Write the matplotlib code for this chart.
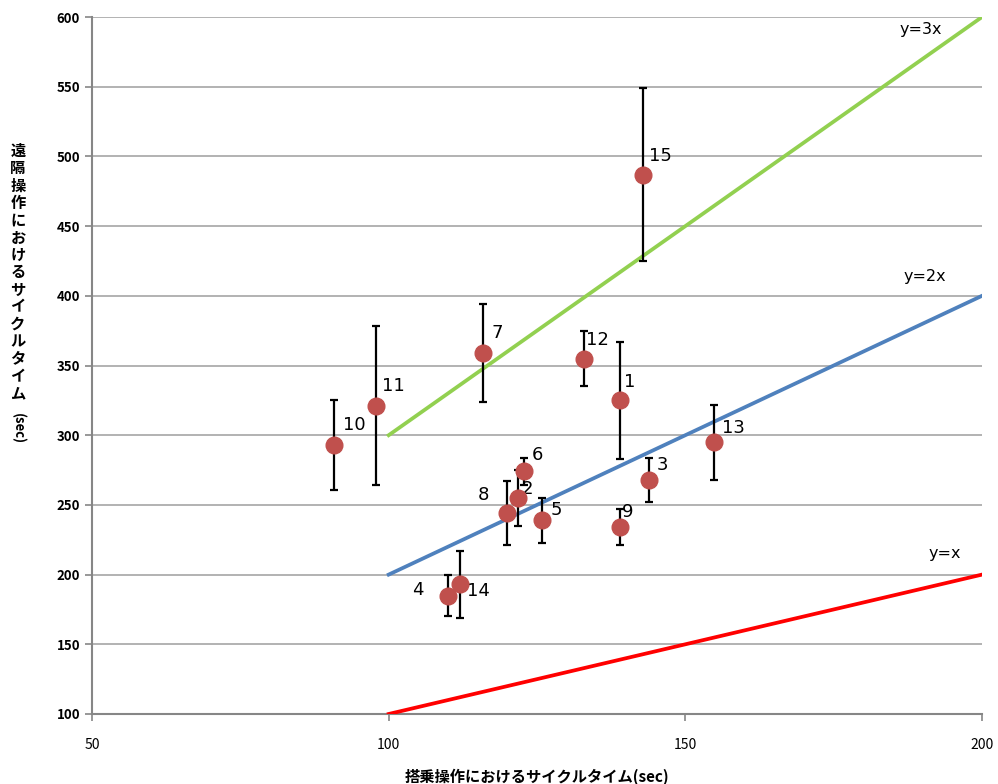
import matplotlib
matplotlib.use("Agg")
import matplotlib.pyplot as plt

plt.rcParams['font.family'] = ['Noto Sans CJK JP', 'DejaVu Sans']

# 被験者番号と平均サイクルタイム
ids = ['10', '11', '7', '15', '12', '1', '13', '3', '9', '6', '2', '8', '5', '4', '14']
x_ride = [90.8, 97.9, 115.9, 142.9, 132.9, 139.0, 154.8, 143.9, 139.0, 122.8, 121.8, 119.9, 125.8, 110.0, 112.0]
y_remote = [293, 321, 359, 487, 355, 325, 295, 268, 234, 274, 255, 244, 239, 185, 193]
y_err = [32, 57, 35, 62, 20, 42, 27, 16, 13, 10, 20, 23, 16, 15, 24]

# ラベルのずらし量 (px)
label_off = [(20, 20), (17, 20), (14, 20), (17, 19), (14, 19), (10, 18), (20, 14), (13, 15),
             (8, 15), (13, 16), (9, 9), (-23, 18), (15, 10), (-30, 6), (19, -7)]

ref_x = [100, 200]
ref_k = [1, 2, 3]
ref_names = ['y=x', 'y=2x', 'y=3x']
ref_colors = ['#FF0000', '#4F81BD', '#92D050']
ref_label_pos = [(193.8, 215), (190.4, 414), (189.6, 591)]

fig = plt.figure(figsize=(9.98, 7.84), dpi=100)
ax = fig.add_axes([0.0922, 0.0893, 0.8918, 0.8890])

for k, name, c, pos in zip(ref_k, ref_names, ref_colors, ref_label_pos):
    ax.plot(ref_x, [k * v for v in ref_x], color=c, lw=2.7, zorder=3)
    ax.text(pos[0], pos[1], name, fontsize=11.5, ha='center', va='center', family='DejaVu Sans')

ax.errorbar(x_ride, y_remote, yerr=y_err, fmt='none', ecolor='black', elinewidth=1.6,
            capsize=3, capthick=1.6, zorder=4)
ax.plot(x_ride, y_remote, 'o', color='#C0504D', markersize=12, zorder=5)

for i, (xv, yv) in enumerate(zip(x_ride, y_remote)):
    dx, dy = label_off[i]
    ax.annotate(ids[i], (xv, yv), xytext=(dx * 0.72, dy * 0.72), textcoords='offset points',
                ha='center', va='center', fontsize=13, family='DejaVu Sans')

ax.set_xlim(50, 200)
ax.set_ylim(100, 600)
ax.set_xticks([50, 100, 150, 200])
ax.set_yticks(range(100, 601, 50))
ax.yaxis.grid(True, color='#A6A6A6', lw=1.2)
ax.set_axisbelow(True)
for s in ['top', 'right']:
    ax.spines[s].set_visible(False)
for s in ['left', 'bottom']:
    ax.spines[s].set_color('#868686')
    ax.spines[s].set_linewidth(1.5)
ax.tick_params(axis='both', color='#868686', length=5, width=1.2)
ax.tick_params(axis='y', labelsize=9.5)
ax.tick_params(axis='x', labelsize=10, pad=12)
for t in ax.get_yticklabels():
    t.set_fontweight('bold')

ax.set_xlabel('搭乗操作におけるサイクルタイム(sec)', fontsize=11, fontweight='bold', labelpad=12)

ylab = '遠隔操作におけるサイクルタイム'
fig.text(18 / 998, 1 - 143 / 784, '\n'.join(ylab), fontsize=11, fontweight='bold',
         ha='center', va='top', linespacing=1.1)
fig.text(18 / 998, 1 - 413 / 784, '(sec)', fontsize=9.5, fontweight='bold',
         ha='center', va='top', rotation=-90)

fig.savefig('out.png', dpi=100)
